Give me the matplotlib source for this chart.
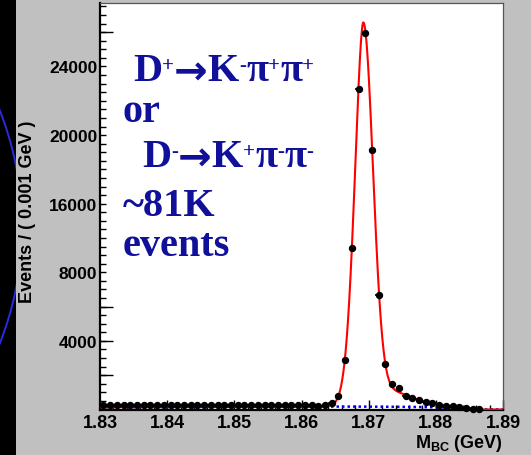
import numpy as np
import matplotlib
matplotlib.use("Agg")
from matplotlib import pyplot as plt
from matplotlib.patches import Rectangle, Circle
from matplotlib.ticker import FixedLocator, MultipleLocator

# M_BC histogram, 1 MeV bins from 1.830 to 1.887 GeV
bin_lo = 1.830
bin_w = 0.001
events = [290, 290, 280, 290, 290, 280, 290, 290, 280, 290,
          290, 280, 290, 290, 290, 280, 290, 290, 280, 290,
          290, 280, 290, 290, 280, 290, 290, 280, 290, 280,
          262, 262, 222, 245, 379, 805, 2904, 9434, 18670, 21935,
          15130, 6694, 2665, 1487, 1254, 770, 653, 536, 420, 362,
          262, 222, 204, 128, 87, 47, 10]

# fit result: asymmetric signal peak + ARGUS background
peak_mass = 1.8692      # GeV
peak_amp = 22400.
left_k, left_p = 0.34, 1.8   # left side shape, d in MeV
right_sigma = 1.44           # MeV
tail_amp, tail_decay, tail_onset = 4700., 4.0, 3.0
beam_end = 1.8866
argus_c = -20.
bg_level = 170.              # background at 1.86 GeV

ytick_vals = [4000, 8000, 12000, 16000, 20000]
ytick_text = ['4000', '8000', '16000', '20000', '24000']
long_ticks = [2000, 4000, 6000, 22000]


def argus_shape(m):
    z = np.clip(1 - (m / beam_end) ** 2, 0, None)
    return m * np.sqrt(z) * np.exp(argus_c * z)


def fit_curve(m):
    d = (m - peak_mass) * 1000.
    z = np.clip(1 - (m / beam_end) ** 2, 0, None)
    z0 = 1 - (peak_mass / beam_end) ** 2
    core = np.where(d < 0,
                    np.exp(-left_k * np.abs(d) ** left_p),
                    np.exp(-d ** 2 / (2 * right_sigma ** 2)))
    dp = np.clip(d, 0, None)
    tail = tail_amp * np.exp(-dp / tail_decay) * (1 - np.exp(-dp ** 2 / (2 * tail_onset ** 2)))
    tail = tail * np.sqrt(z / z0)
    bg = bg_level * argus_shape(m) / argus_shape(np.array(1.86))
    return peak_amp * core + tail + bg, bg


W, H = 531, 456
fig = plt.figure(figsize=(W / 100, H / 100), dpi=100, facecolor='#c0c0c0')

# slide background on the far left
deco = fig.add_axes([0, 0, 1, 1], zorder=-1)
deco.set_xlim(0, W)
deco.set_ylim(H, 0)
deco.axis('off')
strip = Rectangle((0, 0), 16, H, facecolor='black', edgecolor='none')
deco.add_patch(strip)
ring = Circle((-295, 228), 317, fill=False, edgecolor='#2a2ae0', lw=1.4)
deco.add_patch(ring)
ring.set_clip_path(strip)

ax = fig.add_axes([100 / W, 1 - 410.5 / H, 403 / W, 407 / H])
ax.set_facecolor('white')

centers = bin_lo + bin_w * (np.arange(len(events)) + 0.5)
counts = np.array(events, dtype=float)

m = np.linspace(1.83, 1.89, 1500)
total, bg = fit_curve(m)
ax.plot(m, bg, color='#0000ff', lw=1.8, ls=(0, (1, 1.2)), zorder=2)
ax.plot(m, total, color='#ff0000', lw=1.5, zorder=3)
ax.errorbar(centers, counts, xerr=bin_w / 2, yerr=np.sqrt(counts), fmt='o',
            color='black', ms=4.3, lw=1.2, capsize=0, zorder=4, clip_on=False)

ax.set_xlim(1.83, 1.89)
ax.set_ylim(0, 23730)

for s in ['left', 'bottom']:
    ax.spines[s].set_linewidth(1.6)
    ax.spines[s].set_color('black')
for s in ['top', 'right']:
    ax.spines[s].set_linewidth(0.9)
    ax.spines[s].set_color('#555555')

ax.set_xticks(np.round(np.arange(1.83, 1.8901, 0.01), 2))
ax.set_xticklabels(['%.2f' % v for v in np.arange(1.83, 1.8901, 0.01)])
ax.xaxis.set_minor_locator(MultipleLocator(0.002))
ax.set_yticks(ytick_vals)
ax.set_yticklabels(ytick_text)
ax.yaxis.set_minor_locator(FixedLocator(np.arange(500, 23730, 500)))

ax.tick_params(axis='x', which='major', direction='in', length=7.5, width=1,
               pad=3, top=False)
ax.tick_params(axis='x', which='minor', direction='in', length=3.5, width=1, top=False)
ax.tick_params(axis='y', which='major', direction='in', length=4.2, width=1,
               pad=2, right=False)
ax.tick_params(axis='y', which='minor', direction='in', length=4.2, width=1, right=False)
for lab in ax.get_xticklabels() + ax.get_yticklabels():
    lab.set_fontfamily('Liberation Sans')
    lab.set_fontweight('bold')
for lab in ax.get_xticklabels():
    lab.set_fontsize(13)
for lab in ax.get_yticklabels():
    lab.set_fontsize(12.5)

sec = ax.secondary_yaxis('left')
sec.set_yticks(long_ticks)
sec.set_yticklabels([])
sec.tick_params(direction='in', length=9.2, width=1)
sec.spines['left'].set_visible(False)

ax.set_ylabel('Events / ( 0.001 GeV )', fontsize=13, fontweight='bold',
              fontfamily='Liberation Sans', va='center')
ax.yaxis.set_label_coords(-0.179, 0.488)
ax.set_xlabel(r'$\mathregular{M_{BC}}$ (GeV)', fontsize=13, fontweight='bold',
              fontfamily='Liberation Sans', ha='right', va='center')
ax.xaxis.set_label_coords(1.0, -0.08)

# decay channel annotation, written piece by piece so the charges sit
# as small raised signs and the arrow is a heavy one
navy = '#10109a'
big = 29
sup = 15
renderer = fig.canvas.get_renderer()


def write_run(x, y, parts):
    # parts: (text, size, raise in px, family)
    for s, size, dy, fam in parts:
        t = fig.text(x / W, 1 - (y - dy) / H, s, color=navy, fontsize=size,
                     fontweight='bold', family=fam, ha='left', va='baseline')
        x = t.get_window_extent(renderer).x1


def decay(q_d, q_k, q_pi):
    return [('D', big, 0, 'Liberation Serif'),
            (q_d, sup, 10, 'Liberation Serif'),
            ('\u2192', big, -4, 'DejaVu Sans'),
            ('K', big, 0, 'Liberation Serif'),
            (q_k, sup, 10, 'Liberation Serif'),
            ('\u03c0', big, 0, 'Liberation Serif'),
            (q_pi, sup, 10, 'Liberation Serif'),
            ('\u03c0', big, 0, 'Liberation Serif'),
            (q_pi, sup, 10, 'Liberation Serif')]


write_run(133, 81, decay('+', '-', '+'))
write_run(123, 122, [('or', big, 0, 'Liberation Serif')])
write_run(142, 167, decay('-', '+', '-'))
write_run(123, 216, [('~81K', big, 0, 'Liberation Serif')])
write_run(123, 256, [('events', big, 0, 'Liberation Serif')])

fig.savefig('out.png', dpi=100, facecolor=fig.get_facecolor())
